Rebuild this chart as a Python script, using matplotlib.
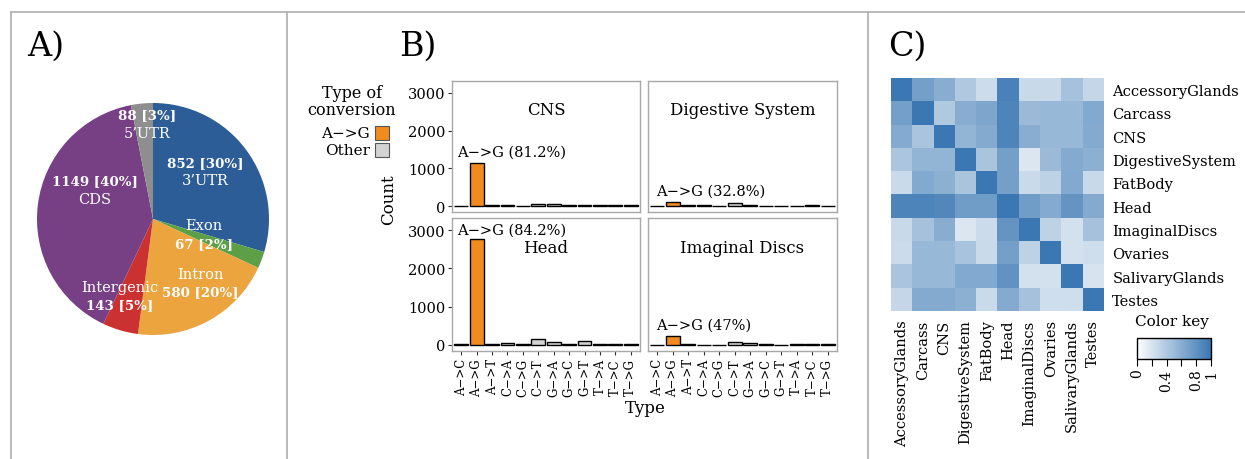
import numpy as np
import matplotlib
matplotlib.use("Agg")
import matplotlib.pyplot as plt
from matplotlib.patches import Rectangle
from matplotlib.lines import Line2D
from matplotlib.colors import LinearSegmentedColormap
from matplotlib.cm import ScalarMappable
from matplotlib.colors import Normalize

plt.rcParams['font.family'] = ['DejaVu Serif']

# ---- data: panel A (genomic regions)
region_names = ["3’UTR", "Exon", "Intron", "Intergenic", "CDS", "5’UTR"]
region_counts = [852, 67, 580, 143, 1149, 88]
region_pct = [30, 2, 20, 5, 40, 3]
region_colors = ["#2d5d96", "#5d9f47", "#eba43e", "#cb3130", "#773f84", "#8e8e8e"]

# ---- data: panel B (conversion types per tissue)
conv_types = ["A->C", "A->G", "A->T", "C->A", "C->G", "C->T",
              "G->A", "G->C", "G->T", "T->A", "T->C", "T->G"]
tissues = ["CNS", "Digestive System", "Head", "Imaginal Discs"]
counts_cns = [10, 1150, 15, 20, 10, 60, 45, 15, 30, 20, 25, 15]
counts_digestive = [5, 110, 15, 20, 10, 85, 30, 10, 10, 10, 20, 10]
counts_head = [15, 2780, 20, 50, 15, 150, 80, 20, 100, 30, 25, 17]
counts_imaginal = [10, 230, 20, 10, 10, 85, 45, 15, 10, 20, 20, 14]
ag_percent = ["81.2", "32.8", "84.2", "47"]
legend_labels = ["A->G", "Other"]
bar_colors = ["#f28b1e", "#d3d3d3"]

# ---- data: panel C (tissue similarity heatmap)
heat_names = ["AccessoryGlands", "Carcass", "CNS", "DigestiveSystem", "FatBody",
              "Head", "ImaginalDiscs", "Ovaries", "SalivaryGlands", "Testes"]
heat_values = np.array([
    [1.00, 0.70, 0.60, 0.40, 0.25, 0.92, 0.28, 0.28, 0.45, 0.30],
    [0.70, 1.00, 0.40, 0.60, 0.65, 0.90, 0.50, 0.52, 0.52, 0.63],
    [0.62, 0.43, 1.00, 0.55, 0.62, 0.90, 0.60, 0.52, 0.52, 0.62],
    [0.42, 0.55, 0.55, 1.00, 0.43, 0.70, 0.18, 0.50, 0.62, 0.58],
    [0.27, 0.63, 0.58, 0.43, 1.00, 0.70, 0.27, 0.33, 0.63, 0.28],
    [0.90, 0.90, 0.88, 0.72, 0.72, 1.00, 0.72, 0.62, 0.78, 0.62],
    [0.28, 0.45, 0.60, 0.18, 0.26, 0.78, 1.00, 0.33, 0.22, 0.45],
    [0.26, 0.52, 0.52, 0.44, 0.27, 0.70, 0.33, 1.00, 0.22, 0.24],
    [0.43, 0.52, 0.52, 0.63, 0.63, 0.80, 0.22, 0.22, 1.00, 0.20],
    [0.30, 0.62, 0.62, 0.58, 0.27, 0.62, 0.45, 0.24, 0.24, 1.00],
])

W, H = 1245, 460
fig = plt.figure(figsize=(W / 100, H / 100), dpi=100)


def fx(x):
    return x / W


def fy(y):
    return 1 - y / H


def box(l, t, r, b):
    return [fx(l), fy(b), (r - l) / W, (b - t) / H]


def arrow(s):
    return s.replace("->", "−>")


# panel frames
frame_col = "#b4b4b4"
fig.add_artist(Line2D([fx(11), 1], [fy(13), fy(13)], color=frame_col, lw=1.3))
for xv in [11, 287, 868]:
    fig.add_artist(Line2D([fx(xv), fx(xv)], [fy(13), 0], color=frame_col, lw=1.3))

for lab, xv in [("A)", 27), ("B)", 399), ("C)", 888)]:
    fig.text(fx(xv), fy(47), lab, fontsize=24, va="center", ha="left")

# ---------------- A) pie
ax = fig.add_axes(box(37, 104, 269, 336))
ax.pie(region_counts, colors=region_colors, startangle=90, counterclock=False,
       radius=1, wedgeprops=dict(linewidth=0))
ax.set_xlim(-1, 1)
ax.set_ylim(-1, 1)

# label centres in pie units (layout)
label_xy = [(0.45, 0.41), (0.44, -0.13), (0.41, -0.55),
            (-0.29, -0.66), (-0.50, 0.25), (-0.05, 0.82)]
dy = 0.078
for name, n, p, (lx, ly) in zip(region_names, region_counts, region_pct, label_xy):
    num = f"{n} [{p}%]"
    if ly < 0:
        top, bot, wt, wb = name, num, "normal", "bold"
    else:
        top, bot, wt, wb = num, name, "bold", "normal"
    for txt, yy, w in [(top, ly + dy, wt), (bot, ly - dy, wb)]:
        ax.text(lx, yy, txt, color="white", fontweight=w,
                fontsize=9.6 if w == "bold" else 10.5,
                ha="center", va="center")

# ---------------- B) faceted bars
facet_counts = [counts_cns, counts_digestive, counts_head, counts_imaginal]
facet_boxes = [(452, 82, 640, 213), (648, 82, 837, 213),
               (452, 219, 640, 352), (648, 219, 837, 352)]
xpos = np.arange(len(conv_types))
for i, (tissue, vals, pct, bx) in enumerate(zip(tissues, facet_counts, ag_percent, facet_boxes)):
    a = fig.add_axes(box(*bx))
    cols = [bar_colors[0] if t == "A->G" else bar_colors[1] for t in conv_types]
    a.bar(xpos, vals, width=0.9, color=cols, edgecolor="black", linewidth=1.0)
    a.set_xlim(-0.6, len(conv_types) - 0.4)
    a.set_ylim(-158, 3317)
    for s in a.spines.values():
        s.set_color("#a8a8a8")
        s.set_linewidth(1.0)
    a.text(0.5, 0.78, tissue, transform=a.transAxes, ha="center", va="center",
           fontsize=12)
    ag = vals[conv_types.index("A->G")]
    a.text(-0.3 if i % 2 == 0 else -0.1, min(ag + 300, 3010),
           arrow(f"A->G ({pct}%)"), ha="left", va="center", fontsize=10.5)
    if i % 2 == 0:
        a.set_yticks([0, 1000, 2000, 3000])
        a.tick_params(axis="y", labelsize=10.5, length=3, color="#333333", pad=2)
    else:
        a.tick_params(axis="y", left=False, labelleft=False)
    if i >= 2:
        a.set_xticks(xpos)
        a.set_xticklabels([arrow(t) for t in conv_types], rotation=90, fontsize=8.5)
        a.tick_params(axis="x", length=3, color="#333333", pad=2)
    else:
        a.tick_params(axis="x", bottom=False, labelbottom=False)

fig.text(fx(389), fy(200), "Count", rotation=90, ha="center", va="center", fontsize=12)
fig.text(fx(645), fy(409), "Type", ha="center", va="center", fontsize=12)

# legend (drawn by hand, ggplot style)
fig.text(fx(352), fy(102), "Type of\nconversion", ha="center", va="center",
         fontsize=11.5, linespacing=1.0)
for k, (lab, col) in enumerate(zip(legend_labels, bar_colors)):
    yc = 134 + 17 * k
    fig.text(fx(370), fy(yc), arrow(lab), ha="right", va="center", fontsize=11)
    fig.add_artist(Rectangle((fx(375), fy(yc + 7)), 14 / W, 14 / H,
                             transform=fig.transFigure, facecolor=col,
                             edgecolor="#555555", lw=0.8))

# ---------------- C) heatmap
cmap = LinearSegmentedColormap.from_list("blues", ["#ffffff", "#3a77b3"])
hax = fig.add_axes(box(891, 79, 1104, 312))
hax.imshow(heat_values, cmap=cmap, vmin=0, vmax=1, aspect="auto",
           interpolation="nearest")
for s in hax.spines.values():
    s.set_visible(False)
hax.yaxis.tick_right()
hax.set_yticks(range(len(heat_names)))
hax.set_yticklabels(heat_names, fontsize=10.5)
hax.set_xticks(range(len(heat_names)))
hax.set_xticklabels(heat_names, fontsize=10.5, rotation=90)
hax.tick_params(length=0, pad=6)

fig.text(fx(1172), fy(322), "Color key", ha="center", va="center", fontsize=11)
cax = fig.add_axes(box(1137, 339, 1211, 360))
cb = fig.colorbar(ScalarMappable(norm=Normalize(0, 1), cmap=cmap), cax=cax,
                  orientation="horizontal", ticks=[0, 0.2, 0.4, 0.6, 0.8, 1])
cb.ax.set_xticklabels(["0", "", "0.4", "", "0.8", "1"], rotation=90, fontsize=10)
cb.ax.tick_params(length=5, width=0.8, color="black", pad=2)
cb.outline.set_edgecolor("black")
cb.outline.set_linewidth(1.0)

fig.savefig("out.png", dpi=100, facecolor="white")
